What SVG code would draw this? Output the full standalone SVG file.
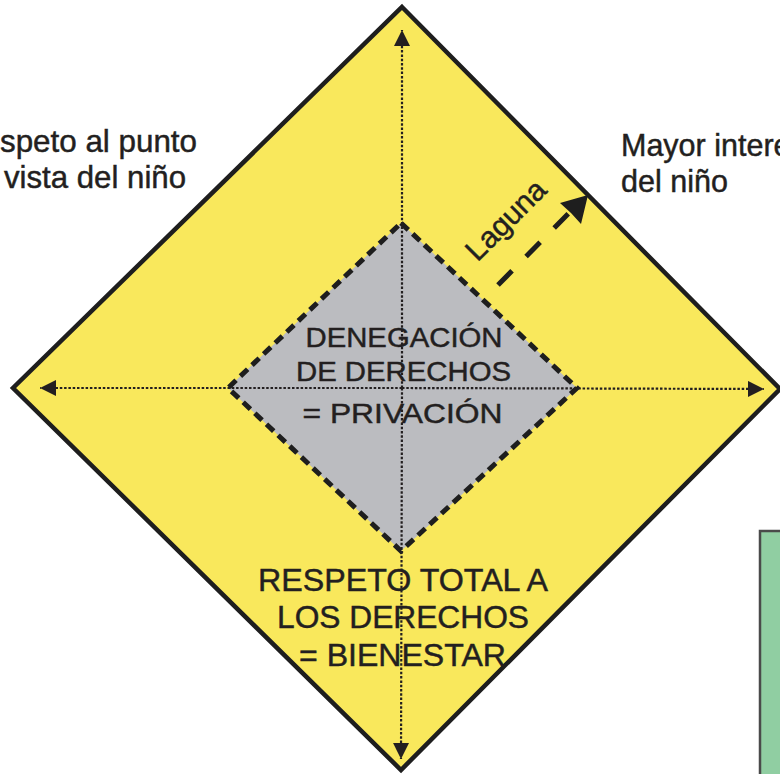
<svg xmlns="http://www.w3.org/2000/svg" width="780" height="774" viewBox="0 0 780 774">
  <defs>
    <style>
      .t { font-family: "Liberation Sans", Arial, Helvetica, sans-serif; fill: #231f20; stroke: #231f20; stroke-width: 0.45px; }
      .lbl { font-size: 30.5px; }
      .ctr { font-size: 27.5px; text-anchor: middle; }
      .bot { font-size: 30.5px; text-anchor: middle; }
      .axis { fill: none; stroke: #231f20; stroke-width: 2.2; stroke-dasharray: 2.5 1.8; }
    </style>
    <marker id="ah" viewBox="0 0 16 16" refX="16" refY="8" markerWidth="16" markerHeight="16" markerUnits="userSpaceOnUse" orient="auto">
      <path d="M0,0 L16,8 L0,16 Z" fill="#231f20"/>
    </marker>
  </defs>
  <rect width="780" height="774" fill="#ffffff"/>

  <g id="green-box">
    <rect x="760" y="531" width="30" height="260" fill="#90cea2" stroke="#4a4a4a" stroke-width="2.5"/>
  </g>

  <g id="outer-diamond">
    <polygon points="402,7 780,389 401,770 13,388" fill="#f9e85c" stroke="#1e1e1e" stroke-width="4.5" stroke-linejoin="miter"/>
  </g>

  <g id="inner-diamond">
    <polygon points="401,223 577,388 401,551 228,388" fill="#bbbcc0" stroke="#1e1e1e" stroke-width="5" stroke-dasharray="10 6"/>
  </g>

  <g id="connectors">
    <line class="axis" x1="402" y1="388" x2="402" y2="30" marker-end="url(#ah)"/>
    <line class="axis" x1="402" y1="388" x2="401" y2="759" marker-end="url(#ah)"/>
    <line class="axis" x1="402" y1="388" x2="40" y2="388" marker-end="url(#ah)"/>
    <line class="axis" x1="402" y1="388" x2="764" y2="389" marker-end="url(#ah)"/>
    <g id="laguna-arrow">
      <line x1="498" y1="285" x2="569" y2="213" stroke="#1e1e1e" stroke-width="5" stroke-dasharray="20 20"/>
      <polygon points="588,195 581,224 571,213 560,203" fill="#1e1e1e"/>
    </g>
  </g>

  <g id="label-left">
    <text class="t lbl" x="0" y="152" textLength="197" lengthAdjust="spacingAndGlyphs">speto al punto</text>
    <text class="t lbl" x="4" y="188" textLength="182" lengthAdjust="spacingAndGlyphs">vista del niño</text>
  </g>

  <g id="label-right">
    <text class="t lbl" x="621" y="156">Mayor intere</text>
    <text class="t lbl" x="621" y="192" textLength="107" lengthAdjust="spacingAndGlyphs">del niño</text>
  </g>

  <g id="label-laguna">
    <text class="t" x="513" y="227" font-size="30" text-anchor="middle" transform="rotate(-45 513 227)">Laguna</text>
  </g>

  <g id="label-center">
    <text class="t ctr" x="404" y="347" textLength="197" lengthAdjust="spacingAndGlyphs">DENEGACIÓN</text>
    <text class="t ctr" x="403.5" y="381" textLength="215" lengthAdjust="spacingAndGlyphs">DE DERECHOS</text>
    <text class="t ctr" x="402.5" y="423" font-size="28.5px" textLength="200" lengthAdjust="spacingAndGlyphs">= PRIVACIÓN</text>
  </g>

  <g id="label-bottom">
    <text class="t bot" x="403" y="591" textLength="290" lengthAdjust="spacingAndGlyphs">RESPETO TOTAL A</text>
    <text class="t bot" x="403" y="628" textLength="252" lengthAdjust="spacingAndGlyphs">LOS DERECHOS</text>
    <text class="t bot" x="402.5" y="666" textLength="207" lengthAdjust="spacingAndGlyphs">= BIENESTAR</text>
  </g>
</svg>
